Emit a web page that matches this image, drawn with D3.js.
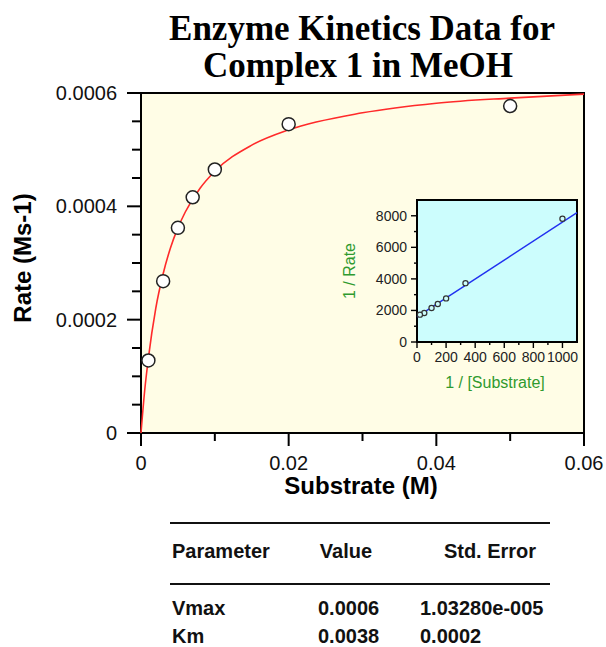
<!DOCTYPE html>
<html>
<head>
<meta charset="utf-8">
<script src="https://cdn.jsdelivr.net/npm/d3@7"></script>
<style>
  html, body { margin: 0; padding: 0; background: #fff; }
  svg text { font-family: "Liberation Sans", Arial, sans-serif; }
</style>
</head>
<body>
<svg id="chart" width="606" height="647"></svg>
<script>
'use strict';
// Measured substrate / rate pairs
const substrate = [0.001, 0.003, 0.005, 0.007, 0.01, 0.02, 0.05];
const rate = [0.000128, 0.000268, 0.000362, 0.000416, 0.000465, 0.000545, 0.000577];

// Fitted Michaelis-Menten curve
const fitX = [0, 0.0005, 0.001, 0.002, 0.003, 0.004, 0.005, 0.006, 0.008, 0.01, 0.015, 0.02, 0.03, 0.04, 0.05, 0.06];
const fitY = [0, 0.000075, 0.000132, 0.00022, 0.000281, 0.000327, 0.000362, 0.00039, 0.000432, 0.000462, 0.000508, 0.000535, 0.000565, 0.000582, 0.000591, 0.000598];

// Lineweaver-Burk line end points
const lbX = [0, 1100];
const lbY = [1590, 8200];

const xTicks = [0, 0.02, 0.04, 0.06];
const yTicks = [0, 0.0002, 0.0004, 0.0006];
const insetXTicks = [0, 200, 400, 600, 800, 1000];
const insetYTicks = [0, 2000, 4000, 6000, 8000];

const tableHead = ['Parameter', 'Value', 'Std. Error'];
const tableRows = [['Vmax', '0.0006', '1.03280e-005'], ['Km', '0.0038', '0.0002']];

const svg = d3.select('#chart');

// Title
const title = svg.append('text')
  .attr('text-anchor', 'middle')
  .style('font-family', '"Liberation Serif", "Times New Roman", serif')
  .style('font-weight', 'bold')
  .style('font-size', '35px');
title.append('tspan').attr('x', 362).attr('y', 40).text('Enzyme Kinetics Data for');
title.append('tspan').attr('x', 358).attr('y', 77).text('Complex 1 in MeOH');

// Main plot
const x = d3.scaleLinear().domain([0, 0.06]).range([141, 584]);
const y = d3.scaleLinear().domain([0, 0.0006]).range([433, 93]);

svg.append('rect')
  .attr('x', x(0)).attr('y', y(0.0006))
  .attr('width', x(0.06) - x(0)).attr('height', y(0) - y(0.0006))
  .attr('fill', '#fffde6').attr('stroke', '#000').attr('stroke-width', 2);

function drawTicks(g, scale, values, len, vertical) {
  values.forEach(v => {
    if (vertical) {
      g.append('line').attr('x1', x(0) - len).attr('x2', x(0))
        .attr('y1', scale(v)).attr('y2', scale(v));
    } else {
      g.append('line').attr('y1', y(0)).attr('y2', y(0) + len)
        .attr('x1', scale(v)).attr('x2', scale(v));
    }
  });
}

const ticks = svg.append('g').attr('stroke', '#000').attr('stroke-width', 2);
drawTicks(ticks, y, yTicks, 14, true);
drawTicks(ticks, y, d3.range(0, 0.0006, 0.00005).filter(v => Math.abs(v / 0.0002 - Math.round(v / 0.0002)) > 1e-6), 9, true);
drawTicks(ticks, x, xTicks, 13, false);
drawTicks(ticks, x, [0.01, 0.03, 0.05], 8, false);

svg.append('g').selectAll('text').data(yTicks).enter().append('text')
  .attr('x', 117).attr('y', d => y(d)).attr('dy', '0.35em')
  .attr('text-anchor', 'end').style('font-size', '20px').style('fill', '#111')
  .text(d => d === 0 ? '0' : d3.format('.4f')(d));

svg.append('g').selectAll('text').data(xTicks).enter().append('text')
  .attr('x', d => x(d)).attr('y', 463).attr('dy', '0.35em')
  .attr('text-anchor', 'middle').style('font-size', '20px').style('fill', '#111')
  .text(d => d === 0 ? '0' : d3.format('.2f')(d));

svg.append('text')
  .attr('x', 361).attr('y', 494).attr('text-anchor', 'middle')
  .style('font-size', '24px').style('font-weight', 'bold')
  .text('Substrate (M)');

svg.append('text')
  .attr('transform', 'translate(31,258) rotate(-90)').attr('text-anchor', 'middle')
  .style('font-size', '24px').style('font-weight', 'bold')
  .text('Rate (Ms-1)');

// Fitted curve
const fit = fitX.map((v, i) => [v, fitY[i]]);
svg.append('path').datum(fit)
  .attr('fill', 'none').attr('stroke', '#ff2a2a').attr('stroke-width', 1.6)
  .attr('d', d3.line().x(d => x(d[0])).y(d => y(d[1])).curve(d3.curveMonotoneX));

svg.append('g').selectAll('circle').data(substrate).enter().append('circle')
  .attr('cx', d => x(d)).attr('cy', (d, i) => y(rate[i])).attr('r', 6.5)
  .attr('fill', '#fff').attr('stroke', '#222').attr('stroke-width', 1.5);

// Inset: Lineweaver-Burk
const ix = d3.scaleLinear().domain([0, 1100]).range([417, 577]);
const iy = d3.scaleLinear().domain([0, 9000]).range([342, 200]);

svg.append('rect')
  .attr('x', ix(0)).attr('y', iy(9000))
  .attr('width', ix(1100) - ix(0)).attr('height', iy(0) - iy(9000))
  .attr('fill', '#ccfdfd').attr('stroke', '#000').attr('stroke-width', 2);

const iticks = svg.append('g').attr('stroke', '#000').attr('stroke-width', 1.4);
d3.range(0, 9000, 1000).forEach(v => {
  const len = v % 2000 === 0 ? 6 : 3;
  iticks.append('line').attr('x1', ix(0) - len).attr('x2', ix(0)).attr('y1', iy(v)).attr('y2', iy(v));
});
d3.range(0, 1100, 100).forEach(v => {
  const len = v % 200 === 0 ? 6 : 3;
  iticks.append('line').attr('y1', iy(0)).attr('y2', iy(0) + len).attr('x1', ix(v)).attr('x2', ix(v));
});

svg.append('g').selectAll('text').data(insetYTicks).enter().append('text')
  .attr('x', 407).attr('y', d => iy(d)).attr('dy', '0.35em')
  .attr('text-anchor', 'end').style('font-size', '14px').style('fill', '#222')
  .text(d => d);

svg.append('g').selectAll('text').data(insetXTicks).enter().append('text')
  .attr('x', d => ix(d)).attr('y', 357).attr('dy', '0.35em')
  .attr('text-anchor', 'middle').style('font-size', '14px').style('fill', '#222')
  .text(d => d);

svg.append('text')
  .attr('x', 495).attr('y', 388).attr('text-anchor', 'middle')
  .style('font-size', '16px').style('fill', '#2f9a2f')
  .text('1 / [Substrate]');

svg.append('text')
  .attr('transform', 'translate(355,271) rotate(-90)').attr('text-anchor', 'middle')
  .style('font-size', '16px').style('fill', '#2f9a2f')
  .text('1 / Rate');

svg.append('line')
  .attr('x1', ix(lbX[0])).attr('y1', iy(lbY[0]))
  .attr('x2', ix(lbX[1])).attr('y2', iy(lbY[1]))
  .attr('stroke', '#2030f0').attr('stroke-width', 1.4);

svg.append('g').selectAll('circle').data(substrate).enter().append('circle')
  .attr('cx', d => ix(1 / d)).attr('cy', (d, i) => iy(1 / rate[i])).attr('r', 2.6)
  .attr('fill', '#ccfdfd').attr('stroke', '#333').attr('stroke-width', 1.2);

// Parameter table
svg.append('line').attr('x1', 170).attr('x2', 550).attr('y1', 523).attr('y2', 523)
  .attr('stroke', '#111').attr('stroke-width', 2.2);
svg.append('line').attr('x1', 170).attr('x2', 550).attr('y1', 584).attr('y2', 584)
  .attr('stroke', '#111').attr('stroke-width', 2.2);

const headX = [172, 346, 490];
const headAnchor = ['start', 'middle', 'middle'];
svg.append('g').selectAll('text').data(tableHead).enter().append('text')
  .attr('x', (d, i) => headX[i]).attr('y', 558).attr('text-anchor', (d, i) => headAnchor[i])
  .style('font-size', '20px').style('font-weight', 'bold').style('fill', '#111')
  .text(d => d);

const colX = [172, 318, 420];
tableRows.forEach((row, r) => {
  svg.append('g').selectAll('text').data(row).enter().append('text')
    .attr('x', (d, i) => colX[i]).attr('y', 615 + r * 28)
    .style('font-size', '20px').style('font-weight', 'bold').style('fill', '#111')
    .text(d => d);
});
</script>
</body>
</html>
